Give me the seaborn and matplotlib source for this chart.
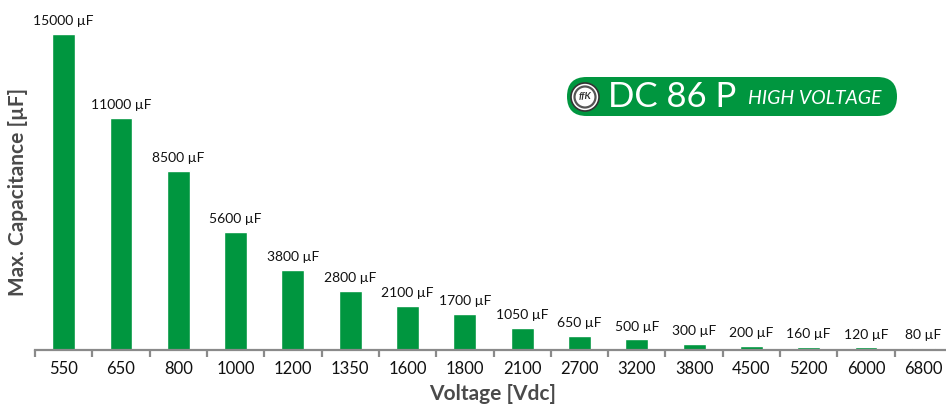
import matplotlib
matplotlib.use("Agg")
import matplotlib.pyplot as plt
from matplotlib.patches import FancyBboxPatch, Circle
import seaborn as sns
import pandas as pd
import numpy as np

voltages = ["550", "650", "800", "1000", "1200", "1350", "1600", "1800",
            "2100", "2700", "3200", "3800", "4500", "5200", "6000", "6800"]
capacitance = [15000, 11000, 8500, 5600, 3800, 2800, 2100, 1700,
               1050, 650, 500, 300, 200, 160, 120, 80]

green = "#00963f"
df = pd.DataFrame({"Voltage": voltages, "Capacitance": capacitance})

sns.set_style("white")
plt.rcParams['font.family'] = ['Lato', 'DejaVu Sans']

fig = plt.figure(figsize=(9.46, 4.05), dpi=100)
ax = fig.add_axes([35 / 946, 55 / 405, 917 / 946, 316 / 405])

sns.barplot(data=df, x="Voltage", y="Capacitance", order=voltages,
            color=green, width=0.4, saturation=1, ax=ax)

ax.set_ylim(0, 15000)
ax.set_xlim(-0.5, len(voltages) - 0.5)

for i, v in enumerate(capacitance):
    ax.annotate(f"{v} µF", (i, v), xytext=(0, 5), textcoords="offset points",
                ha="center", va="bottom", fontsize=10, color="#111111",
                annotation_clip=False)

# axis styling
for s in ["top", "right", "left"]:
    ax.spines[s].set_visible(False)
ax.spines["bottom"].set_color("#8a8a8a")
ax.spines["bottom"].set_linewidth(1.6)
ax.set_yticks([])
ax.set_xticks(np.arange(len(voltages)))
ax.set_xticklabels(voltages, fontsize=12, color="#111111")
ax.set_xticks(np.arange(len(voltages) + 1) - 0.5, minor=True)
ax.tick_params(axis="x", which="major", length=0, pad=8)
ax.tick_params(axis="x", which="minor", length=5, width=1.6, color="#8a8a8a",
               direction="out", bottom=True)

ax.set_xlabel("")
ax.set_ylabel("Max. Capacitance [µF]", fontsize=15, fontweight="bold",
              color="#4a4a4a", labelpad=2)
ax.yaxis.set_label_coords(-7 / 917, 0.5)
fig.text(493 / 946, 1 / 405, "Voltage [Vdc]", fontsize=15, fontweight="bold",
         color="#4a4a4a", ha="center", va="bottom")

# badge drawn on a pixel-coordinate overlay
ov = fig.add_axes([0, 0, 1, 1], facecolor="none")
ov.set_xlim(0, 946)
ov.set_ylim(405, 0)
ov.axis("off")
ov.add_patch(FancyBboxPatch((567, 77), 330, 39,
                            boxstyle="round,pad=0,rounding_size=19.5",
                            facecolor=green, edgecolor="none"))
ov.add_patch(Circle((585, 97), 14, facecolor="white", edgecolor="#333333",
                    linewidth=1.2))
ov.add_patch(Circle((585, 97), 10.5, facecolor="white", edgecolor="#555555",
                    linewidth=1.6))
ov.text(585, 97, "ffK", fontsize=7, style="italic", fontweight="bold",
        color="#333333", ha="center", va="center")
ov.text(608, 97, "DC 86 P", fontsize=25, color="white", ha="left", va="center")
ov.text(748, 99, "HIGH VOLTAGE", fontsize=14, style="italic", color="white",
        ha="left", va="center")

fig.savefig("out.png", dpi=100)
